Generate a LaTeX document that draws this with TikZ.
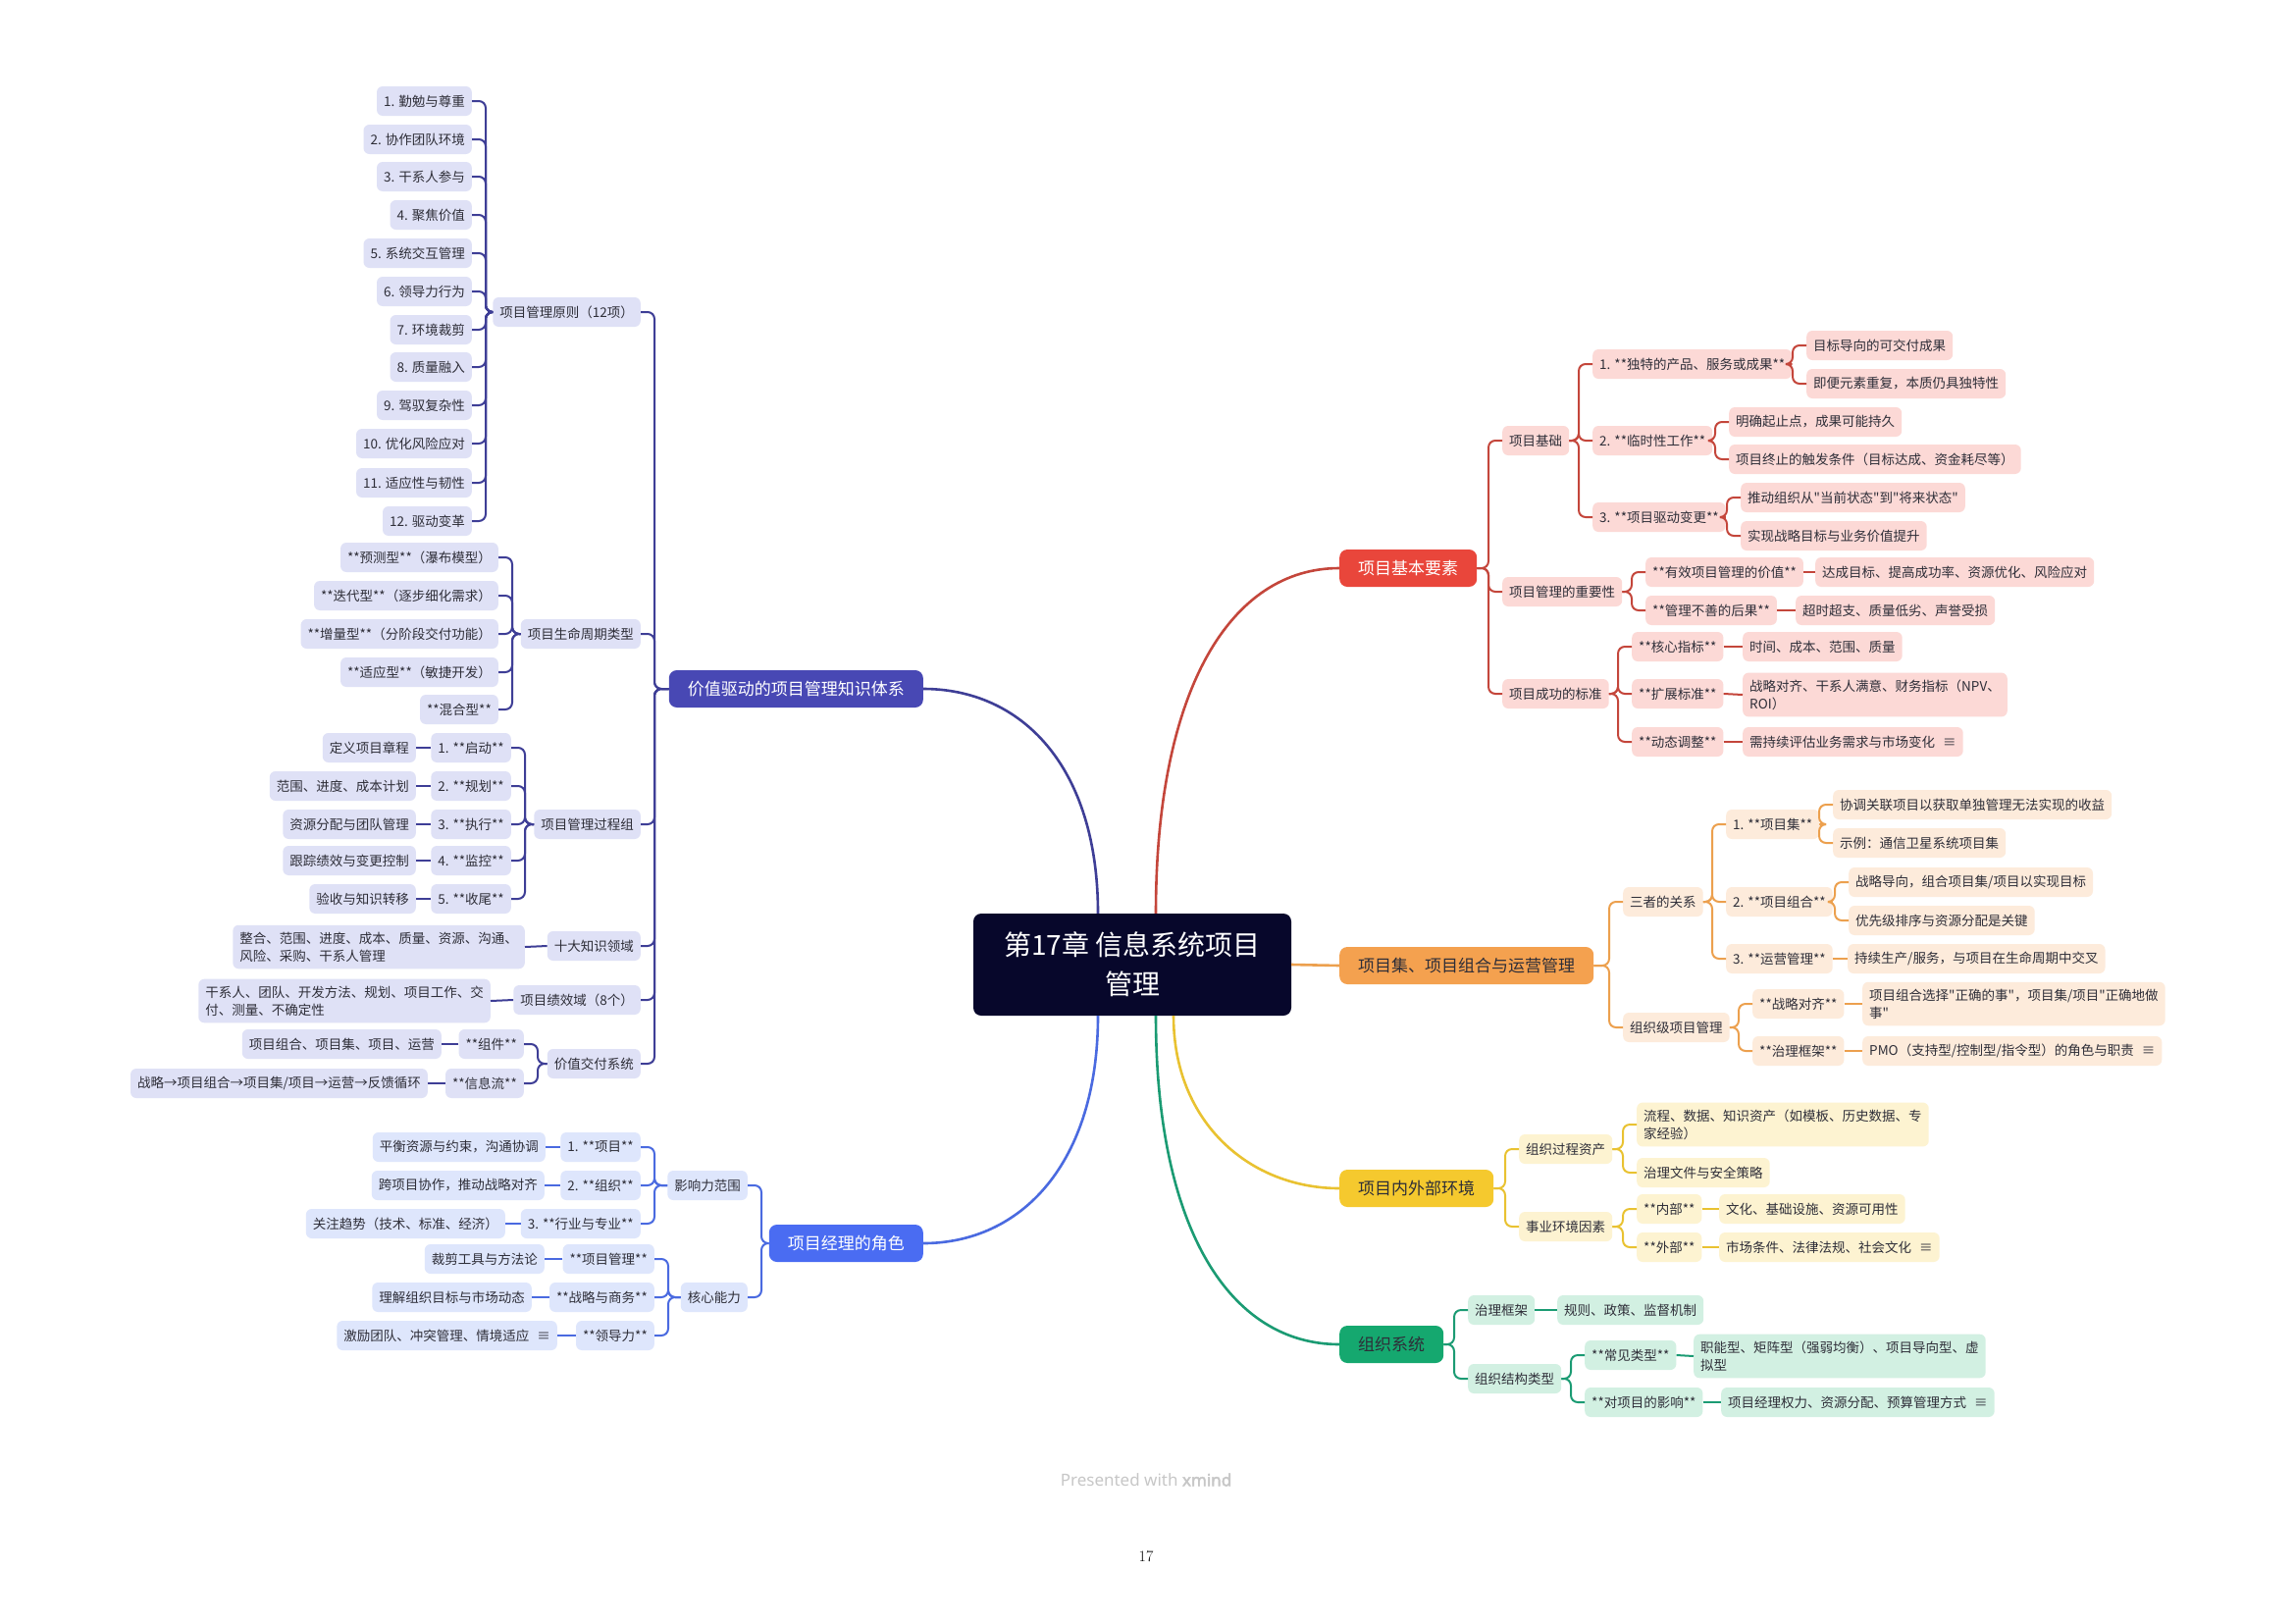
\documentclass[tikz,border=0pt]{standalone}
\usepackage{fontspec}
\newfontfamily\cjk{Noto Sans CJK SC}
\newfontfamily\nsans{Noto Sans}
\newfontfamily\nsansb[FakeBold=2.5]{Noto Sans}
\usetikzlibrary{calc}
\definecolor{rootF}{HTML}{07072B}
\definecolor{indM}{HTML}{4848B4}\definecolor{indL}{HTML}{DFE1F6}\definecolor{indC}{HTML}{3E3E96}
\definecolor{bluM}{HTML}{4A6CF2}\definecolor{bluL}{HTML}{DEE6FC}\definecolor{bluC}{HTML}{4A6AE0}
\definecolor{redM}{HTML}{E9463B}\definecolor{redL}{HTML}{FCD9D6}\definecolor{redC}{HTML}{C4463B}
\definecolor{orgM}{HTML}{F4A14F}\definecolor{orgL}{HTML}{FDEBDB}\definecolor{orgC}{HTML}{ECA04E}
\definecolor{yelM}{HTML}{F5C92E}\definecolor{yelL}{HTML}{FDF3D1}\definecolor{yelC}{HTML}{E9C231}
\definecolor{grnM}{HTML}{15A86F}\definecolor{grnL}{HTML}{D2F0E2}\definecolor{grnC}{HTML}{1B9B73}
\definecolor{txt}{HTML}{2E2E38}
\newcommand\conL[3]{\draw[#1] (#2.west) -| ([xshift=14pt]#3.east) -- (#3.east);}
\newcommand\conR[3]{\draw[#1] (#2.east) -| ([xshift=-14pt]#3.west) -- (#3.west);}
\begin{document}
\begin{tikzpicture}[x=1pt,y=-1pt,
  box/.style={rounded corners=6pt, inner xsep=7pt, inner ysep=7pt, minimum height=30pt,
    font=\cjk\fontsize{13.5}{18}\selectfont, align=left, text=txt},
  ibox/.style={box, fill=indL}, bbox/.style={box, fill=bluL}, rbox/.style={box, fill=redL},
  obox/.style={box, fill=orgL}, ybox/.style={box, fill=yelL}, gbox/.style={box, fill=grnL},
  mainb/.style={rounded corners=8pt, minimum height=38pt, inner xsep=19pt, inner ysep=6pt,
    font=\cjk\fontsize{17}{20}\selectfont},
  rootb/.style={rounded corners=8pt, fill=rootF, text=white, minimum width=324pt, minimum height=104pt,
    font=\cjk\fontsize{28}{40}\selectfont, align=center},
  cbase/.style={line width=2pt, rounded corners=7pt},
  conI/.style={cbase, draw=indC}, conB/.style={cbase, draw=bluC}, conRd/.style={cbase, draw=redC},
  conO/.style={cbase, draw=orgC}, conY/.style={cbase, draw=yelC}, conG/.style={cbase, draw=grnC},
  curve/.style={line width=2.6pt}
]
\useasboundingbox[fill=white] (0,0) rectangle (2339,1654);

% root
\node[rootb] (root) at (1154,983) {第17章 信息系统项目\\管理};

% ================= indigo branch
\node[mainb,fill=indM,text=white,anchor=east] (ind) at (941,702) {价值驱动的项目管理知识体系};
\node[ibox,anchor=east] (i1) at (653,318) {项目管理原则（12项）};
\node[ibox,anchor=east] (i2) at (653,646) {项目生命周期类型};
\node[ibox,anchor=east] (i3) at (653,840) {项目管理过程组};
\node[ibox,anchor=east] (i4) at (653,964) {十大知识领域};
\node[ibox,anchor=east] (i5) at (653,1019) {项目绩效域（8个）};
\node[ibox,anchor=east] (i6) at (653,1084) {价值交付系统};
\foreach \c in {i1,i2,i3,i4,i5,i6} {\conL{conI}{ind}{\c}}

\foreach \k/\y/\t in {a/103/1. 勤勉与尊重,b/142/2. 协作团队环境,c/180/3. 干系人参与,d/219/4. 聚焦价值,
  e/258/5. 系统交互管理,f/297/6. 领导力行为,g/336/7. 环境裁剪,h/374/8. 质量融入,i/413/9. 驾驭复杂性,
  j/452/10. 优化风险应对,k/492/11. 适应性与韧性,l/531/12. 驱动变革}
  {\node[ibox,anchor=east] (pr\k) at (481,\y) {\t}; \conL{conI}{i1}{pr\k}}

\foreach \k/\y/\t in {a/568/**预测型**（瀑布模型）,b/607/**迭代型**（逐步细化需求）,
  c/646/**增量型**（分阶段交付功能）,d/685/**适应型**（敏捷开发）,e/723/**混合型**}
  {\node[ibox,anchor=east] (lc\k) at (508,\y) {\t}; \conL{conI}{i2}{lc\k}}

\foreach \k/\y/\t/\s in {a/762/1. **启动**/定义项目章程,b/801/2. **规划**/范围、进度、成本计划,
  c/840/3. **执行**/资源分配与团队管理,d/877/4. **监控**/跟踪绩效与变更控制,e/916/5. **收尾**/验收与知识转移}
  {\node[ibox,anchor=east] (pg\k) at (521,\y) {\t};
   \node[ibox,anchor=east] (pl\k) at (424,\y) {\s};
   \conL{conI}{i3}{pg\k} \draw[conI] (pg\k.west) -- (pl\k.east);}

\node[ibox,anchor=east] (i4l) at (535,965) {整合、范围、进度、成本、质量、资源、沟通、\\风险、采购、干系人管理};
\draw[conI] (i4.west) -- (i4l.east);
\node[ibox,anchor=east] (i5l) at (500,1020) {干系人、团队、开发方法、规划、项目工作、交\\付、测量、不确定性};
\draw[conI] (i5.west) -- (i5l.east);
\node[ibox,anchor=east] (i6a) at (534,1064) {**组件**};
\node[ibox,anchor=east] (i6b) at (534,1104) {**信息流**};
\conL{conI}{i6}{i6a} \conL{conI}{i6}{i6b}
\node[ibox,anchor=east] (i6al) at (450,1064) {项目组合、项目集、项目、运营};
\node[ibox,anchor=east] (i6bl) at (436,1104) {战略→项目组合→项目集/项目→运营→反馈循环};
\draw[conI] (i6a.west) -- (i6al.east);
\draw[conI] (i6b.west) -- (i6bl.east);

% ================= blue branch
\node[mainb,fill=bluM,text=white,anchor=east] (rol) at (941,1267) {项目经理的角色};
\node[bbox,anchor=east] (r1) at (762,1208) {影响力范围};
\node[bbox,anchor=east] (r2) at (762,1322) {核心能力};
\conL{conB}{rol}{r1} \conL{conB}{rol}{r2}
\node[bbox,anchor=east] (r1a) at (653,1169) {1. **项目**};
\node[bbox,anchor=east] (r1b) at (653,1208) {2. **组织**};
\node[bbox,anchor=east] (r1c) at (653,1247) {3. **行业与专业**};
\foreach \c in {r1a,r1b,r1c} {\conL{conB}{r1}{\c}}
\node[bbox,anchor=east] (r1al) at (556,1169) {平衡资源与约束，沟通协调};
\node[bbox,anchor=east] (r1bl) at (555,1208) {跨项目协作，推动战略对齐};
\node[bbox,anchor=east] (r1cl) at (515,1247) {关注趋势（技术、标准、经济）};
\draw[conB] (r1a.west) -- (r1al.east);
\draw[conB] (r1b.west) -- (r1bl.east);
\draw[conB] (r1c.west) -- (r1cl.east);
\node[bbox,anchor=east] (r2a) at (667,1283) {**项目管理**};
\node[bbox,anchor=east] (r2b) at (667,1322) {**战略与商务**};
\node[bbox,anchor=east] (r2c) at (667,1361) {**领导力**};
\foreach \c in {r2a,r2b,r2c} {\conL{conB}{r2}{\c}}
\node[bbox,anchor=east] (r2al) at (555,1283) {裁剪工具与方法论};
\node[bbox,anchor=east] (r2bl) at (542,1322) {理解组织目标与市场动态};
\node[bbox,anchor=east] (r2cl) at (568,1361) {激励团队、冲突管理、情境适应\hspace{8pt}≡};
\draw[conB] (r2a.west) -- (r2al.east);
\draw[conB] (r2b.west) -- (r2bl.east);
\draw[conB] (r2c.west) -- (r2cl.east);

% ================= red branch
\node[mainb,fill=redM,text=white,anchor=west] (red) at (1365,579) {项目基本要素};
\node[rbox,anchor=west] (e1) at (1531,449) {项目基础};
\node[rbox,anchor=west] (e2) at (1531,603) {项目管理的重要性};
\node[rbox,anchor=west] (e3) at (1531,707) {项目成功的标准};
\foreach \c in {e1,e2,e3} {\conR{conRd}{red}{\c}}
\node[rbox,anchor=west] (e1a) at (1623,371) {1. **独特的产品、服务或成果**};
\node[rbox,anchor=west] (e1b) at (1623,449) {2. **临时性工作**};
\node[rbox,anchor=west] (e1c) at (1623,527) {3. **项目驱动变更**};
\foreach \c in {e1a,e1b,e1c} {\conR{conRd}{e1}{\c}}
\node[rbox,anchor=west] (e1a1) at (1841,352) {目标导向的可交付成果};
\node[rbox,anchor=west] (e1a2) at (1841,391) {即便元素重复，本质仍具独特性};
\node[rbox,anchor=west] (e1b1) at (1762,430) {明确起止点，成果可能持久};
\node[rbox,anchor=west] (e1b2) at (1762,468) {项目终止的触发条件（目标达成、资金耗尽等）};
\node[rbox,anchor=west] (e1c1) at (1774,507) {推动组织从"当前状态"到"将来状态"};
\node[rbox,anchor=west] (e1c2) at (1774,546) {实现战略目标与业务价值提升};
\conR{conRd}{e1a}{e1a1} \conR{conRd}{e1a}{e1a2}
\conR{conRd}{e1b}{e1b1} \conR{conRd}{e1b}{e1b2}
\conR{conRd}{e1c}{e1c1} \conR{conRd}{e1c}{e1c2}
\node[rbox,anchor=west] (e2a) at (1677,583) {**有效项目管理的价值**};
\node[rbox,anchor=west] (e2b) at (1677,622) {**管理不善的后果**};
\conR{conRd}{e2}{e2a} \conR{conRd}{e2}{e2b}
\node[rbox,anchor=west] (e2a1) at (1850,583) {达成目标、提高成功率、资源优化、风险应对};
\node[rbox,anchor=west] (e2b1) at (1830,622) {超时超支、质量低劣、声誉受损};
\draw[conRd] (e2a.east) -- (e2a1.west);
\draw[conRd] (e2b.east) -- (e2b1.west);
\node[rbox,anchor=west] (e3a) at (1663,659) {**核心指标**};
\node[rbox,anchor=west] (e3b) at (1663,707) {**扩展标准**};
\node[rbox,anchor=west] (e3c) at (1663,756) {**动态调整**};
\foreach \c in {e3a,e3b,e3c} {\conR{conRd}{e3}{\c}}
\node[rbox,anchor=west] (e3a1) at (1776,659) {时间、成本、范围、质量};
\node[rbox,anchor=west] (e3b1) at (1776,708) {战略对齐、干系人满意、财务指标（NPV、\\ROI）};
\node[rbox,anchor=west] (e3c1) at (1776,756) {需持续评估业务需求与市场变化\hspace{8pt}≡};
\draw[conRd] (e3a.east) -- (e3a1.west);
\draw[conRd] (e3b.east) -- (e3b1.west);
\draw[conRd] (e3c.east) -- (e3c1.west);

% ================= orange branch
\node[mainb,fill=orgM,text=txt,anchor=west] (org) at (1365,984) {项目集、项目组合与运营管理};
\node[obox,anchor=west] (o1) at (1654,919) {三者的关系};
\node[obox,anchor=west] (o2) at (1654,1047) {组织级项目管理};
\conR{conO}{org}{o1} \conR{conO}{org}{o2}
\node[obox,anchor=west] (o1a) at (1759,840) {1. **项目集**};
\node[obox,anchor=west] (o1b) at (1759,919) {2. **项目组合**};
\node[obox,anchor=west] (o1c) at (1759,977) {3. **运营管理**};
\foreach \c in {o1a,o1b,o1c} {\conR{conO}{o1}{\c}}
\node[obox,anchor=west] (o1a1) at (1868,820) {协调关联项目以获取单独管理无法实现的收益};
\node[obox,anchor=west] (o1a2) at (1868,859) {示例：通信卫星系统项目集};
\node[obox,anchor=west] (o1b1) at (1884,899) {战略导向，组合项目集/项目以实现目标};
\node[obox,anchor=west] (o1b2) at (1884,938) {优先级排序与资源分配是关键};
\node[obox,anchor=west] (o1c1) at (1883,977) {持续生产/服务，与项目在生命周期中交叉};
\conR{conO}{o1a}{o1a1} \conR{conO}{o1a}{o1a2}
\conR{conO}{o1b}{o1b1} \conR{conO}{o1b}{o1b2}
\draw[conO] (o1c.east) -- (o1c1.west);
\node[obox,anchor=west] (o2a) at (1786,1023) {**战略对齐**};
\node[obox,anchor=west] (o2b) at (1786,1071) {**治理框架**};
\conR{conO}{o2}{o2a} \conR{conO}{o2}{o2b}
\node[obox,anchor=west] (o2a1) at (1898,1023) {项目组合选择"正确的事"，项目集/项目"正确地做\\事"};
\node[obox,anchor=west] (o2b1) at (1898,1071) {PMO（支持型/控制型/指令型）的角色与职责\hspace{8pt}≡};
\draw[conO] (o2a.east) -- (o2a1.west);
\draw[conO] (o2b.east) -- (o2b1.west);

% ================= yellow branch
\node[mainb,fill=yelM,text=txt,anchor=west] (yel) at (1365,1211) {项目内外部环境};
\node[ybox,anchor=west] (y1) at (1548,1171) {组织过程资产};
\node[ybox,anchor=west] (y2) at (1548,1250) {事业环境因素};
\conR{conY}{yel}{y1} \conR{conY}{yel}{y2}
\node[ybox,anchor=west] (y1a) at (1668,1146) {流程、数据、知识资产（如模板、历史数据、专\\家经验）};
\node[ybox,anchor=west] (y1b) at (1668,1195) {治理文件与安全策略};
\conR{conY}{y1}{y1a} \conR{conY}{y1}{y1b}
\node[ybox,anchor=west] (y2a) at (1668,1232) {**内部**};
\node[ybox,anchor=west] (y2b) at (1668,1271) {**外部**};
\conR{conY}{y2}{y2a} \conR{conY}{y2}{y2b}
\node[ybox,anchor=west] (y2a1) at (1752,1232) {文化、基础设施、资源可用性};
\node[ybox,anchor=west] (y2b1) at (1752,1271) {市场条件、法律法规、社会文化\hspace{8pt}≡};
\draw[conY] (y2a.east) -- (y2a1.west);
\draw[conY] (y2b.east) -- (y2b1.west);

% ================= green branch
\node[mainb,fill=grnM,text=txt,anchor=west] (grn) at (1365,1370) {组织系统};
\node[gbox,anchor=west] (g1) at (1496,1335) {治理框架};
\node[gbox,anchor=west] (g2) at (1496,1405) {组织结构类型};
\conR{conG}{grn}{g1} \conR{conG}{grn}{g2}
\node[gbox,anchor=west] (g1a) at (1587,1335) {规则、政策、监督机制};
\draw[conG] (g1.east) -- (g1a.west);
\node[gbox,anchor=west] (g2a) at (1615,1381) {**常见类型**};
\node[gbox,anchor=west] (g2b) at (1615,1429) {**对项目的影响**};
\conR{conG}{g2}{g2a} \conR{conG}{g2}{g2b}
\node[gbox,anchor=west] (g2a1) at (1726,1382) {职能型、矩阵型（强弱均衡）、项目导向型、虚\\拟型};
\node[gbox,anchor=west] (g2b1) at (1754,1429) {项目经理权力、资源分配、预算管理方式\hspace{8pt}≡};
\draw[conG] (g2a.east) -- (g2a1.west);
\draw[conG] (g2b.east) -- (g2b1.west);

% ================= main curves
\coordinate (sI) at ([xshift=-35pt]root.north);
\coordinate (sR) at ([xshift=24pt]root.north);
\coordinate (sB) at ([xshift=-35pt]root.south);
\coordinate (sG) at ([xshift=24pt]root.south);
\coordinate (sY) at ([xshift=42pt]root.south);
\draw[curve,draw=indC] (sI) .. controls ([yshift=150pt]sI) and ([xshift=100pt]ind.east) .. (ind.east);
\draw[curve,draw=redC] (sR) .. controls ([yshift=230pt]sR) and ([xshift=-110pt]red.west) .. (red.west);
\draw[curve,draw=bluC] (sB) .. controls ([yshift=-150pt]sB) and ([xshift=100pt]rol.east) .. (rol.east);
\draw[curve,draw=yelC] (sY) .. controls ([yshift=-110pt]sY) and ([xshift=-90pt]yel.west) .. (yel.west);
\draw[curve,draw=grnC] (sG) .. controls ([yshift=-220pt]sG) and ([xshift=-110pt]grn.west) .. (grn.west);
\draw[curve,draw=orgC] (root.east) -- (org.west);

% footer
\node[font=\nsans\fontsize{17}{20}\selectfont, text=black!22] (pw) at (1168,1508) {Presented with {\nsansb xmind}};
\node[font=\fontsize{16}{18}\selectfont] (pnum) at (1168,1586) {17};
\end{tikzpicture}
\end{document}
